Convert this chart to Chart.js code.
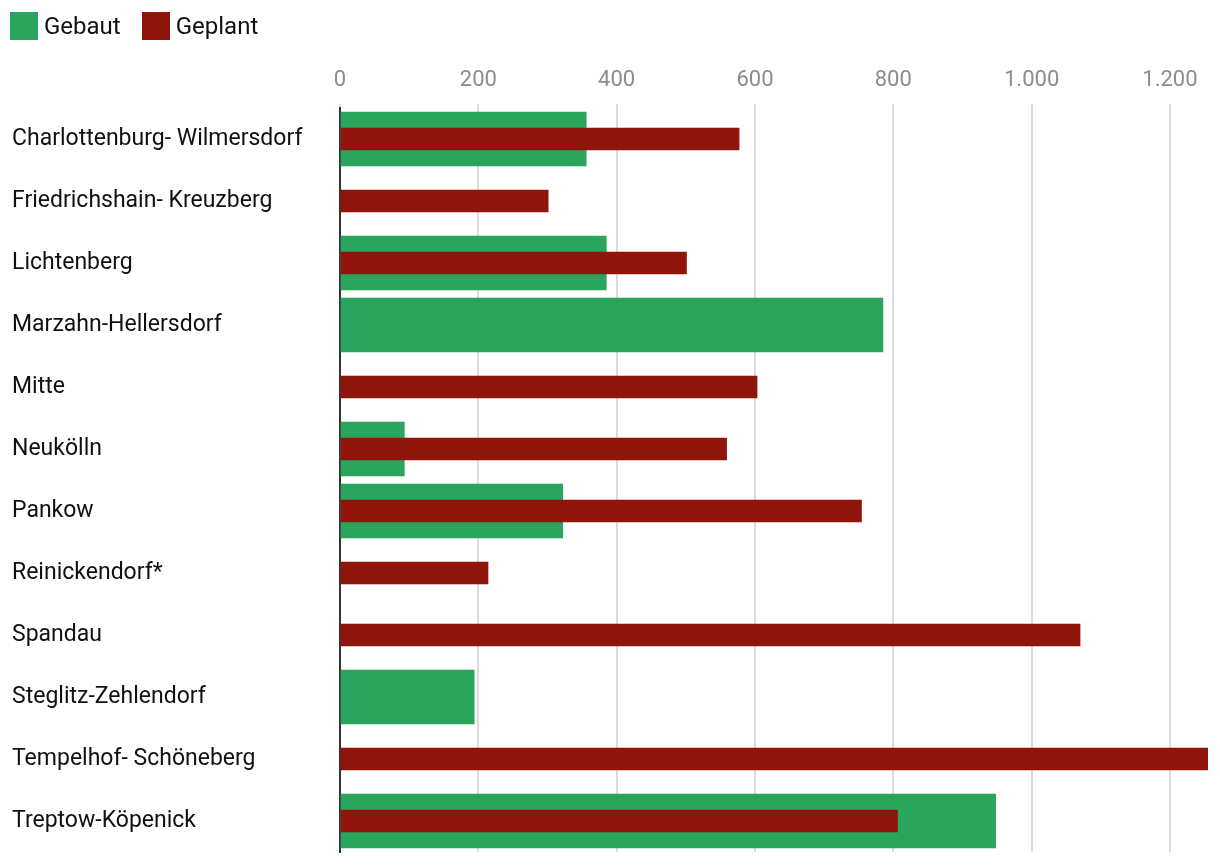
<!DOCTYPE html>
<html>
<head>
<meta charset="utf-8">
<script src="https://cdn.jsdelivr.net/npm/chart.js@4"></script>
<style>
  body { margin: 0; background: #fff; font-family: Roboto, sans-serif; }
  #wrap { position: relative; width: 1220px; height: 868px; }
  #legend { position: absolute; left: 10px; top: 12px; display: flex; align-items: center; font-size: 24px; color: #111; line-height: 28px; }
  #legend span.box { display: inline-block; width: 28px; height: 28px; margin-right: 6px; }
  #legend span.item { display: flex; align-items: center; margin-right: 21px; }
</style>
</head>
<body>
<div id="wrap">
  <div id="legend"></div>
  <canvas id="chart" width="1220" height="868"></canvas>
</div>
<script>
const districts = ['Charlottenburg- Wilmersdorf', 'Friedrichshain- Kreuzberg', 'Lichtenberg', 'Marzahn-Hellersdorf', 'Mitte', 'Neukölln', 'Pankow', 'Reinickendorf*', 'Spandau', 'Steglitz-Zehlendorf', 'Tempelhof- Schöneberg', 'Treptow-Köpenick'];
const gebaut = [356, null, 385, 785, null, 93, 322, null, null, 194, null, 948];
const geplant = [577, 301, 501, null, 603, 559, 754, 214, 1070, null, 1255, 806];
const tickValues = [0, 200, 400, 600, 800, 1000, 1200];
const seriesNames = ['Gebaut', 'Geplant'];
const seriesColors = ['#2aa55e', '#8f150c'];

// legend
const legend = document.getElementById('legend');
seriesNames.forEach((name, i) => {
  legend.innerHTML += `<span class="item"><span class="box" style="background:${seriesColors[i]}"></span>${name}</span>`;
});

const ctx = document.getElementById('chart').getContext('2d');
new Chart(ctx, {
  type: 'bar',
  data: {
    labels: districts,
    datasets: [{
      label: seriesNames[0],
      data: gebaut,
      backgroundColor: seriesColors[0],
      barThickness: 54,
      order: 2
    }, {
      label: seriesNames[1],
      data: geplant,
      backgroundColor: seriesColors[1],
      barThickness: 22,
      order: 1
    }]
  },
  options: {
    indexAxis: 'y',
    responsive: false,
    animation: false,
    locale: 'de-DE',
    layout: { padding: { left: 12, right: 12, top: 60, bottom: 16 } },
    plugins: { legend: { display: false }, tooltip: { enabled: false } },
    datasets: { bar: { grouped: false, categoryPercentage: 1 } },
    scales: {
      x: {
        position: 'top',
        min: 0,
        max: 1255,
        afterBuildTicks: scale => {
          scale.ticks = tickValues.map(v => ({ value: v }));
        },
        afterFit: scale => { scale.height = 48; },
        ticks: { autoSkip: false, maxRotation: 0, color: '#8c8c8c', padding: 10, font: { family: 'Roboto', size: 22 } },
        grid: { color: '#dcdcdc', lineWidth: 2, tickLength: 4, drawTicks: true },
        border: { display: false }
      },
      y: {
        afterFit: scale => { scale.width = 328; },
        ticks: { crossAlign: 'far', color: '#111', padding: 0, font: { family: 'Roboto', size: 23 } },
        grid: { display: false },
        border: { color: '#333', width: 2 }
      }
    }
  }
});
</script>
</body>
</html>
